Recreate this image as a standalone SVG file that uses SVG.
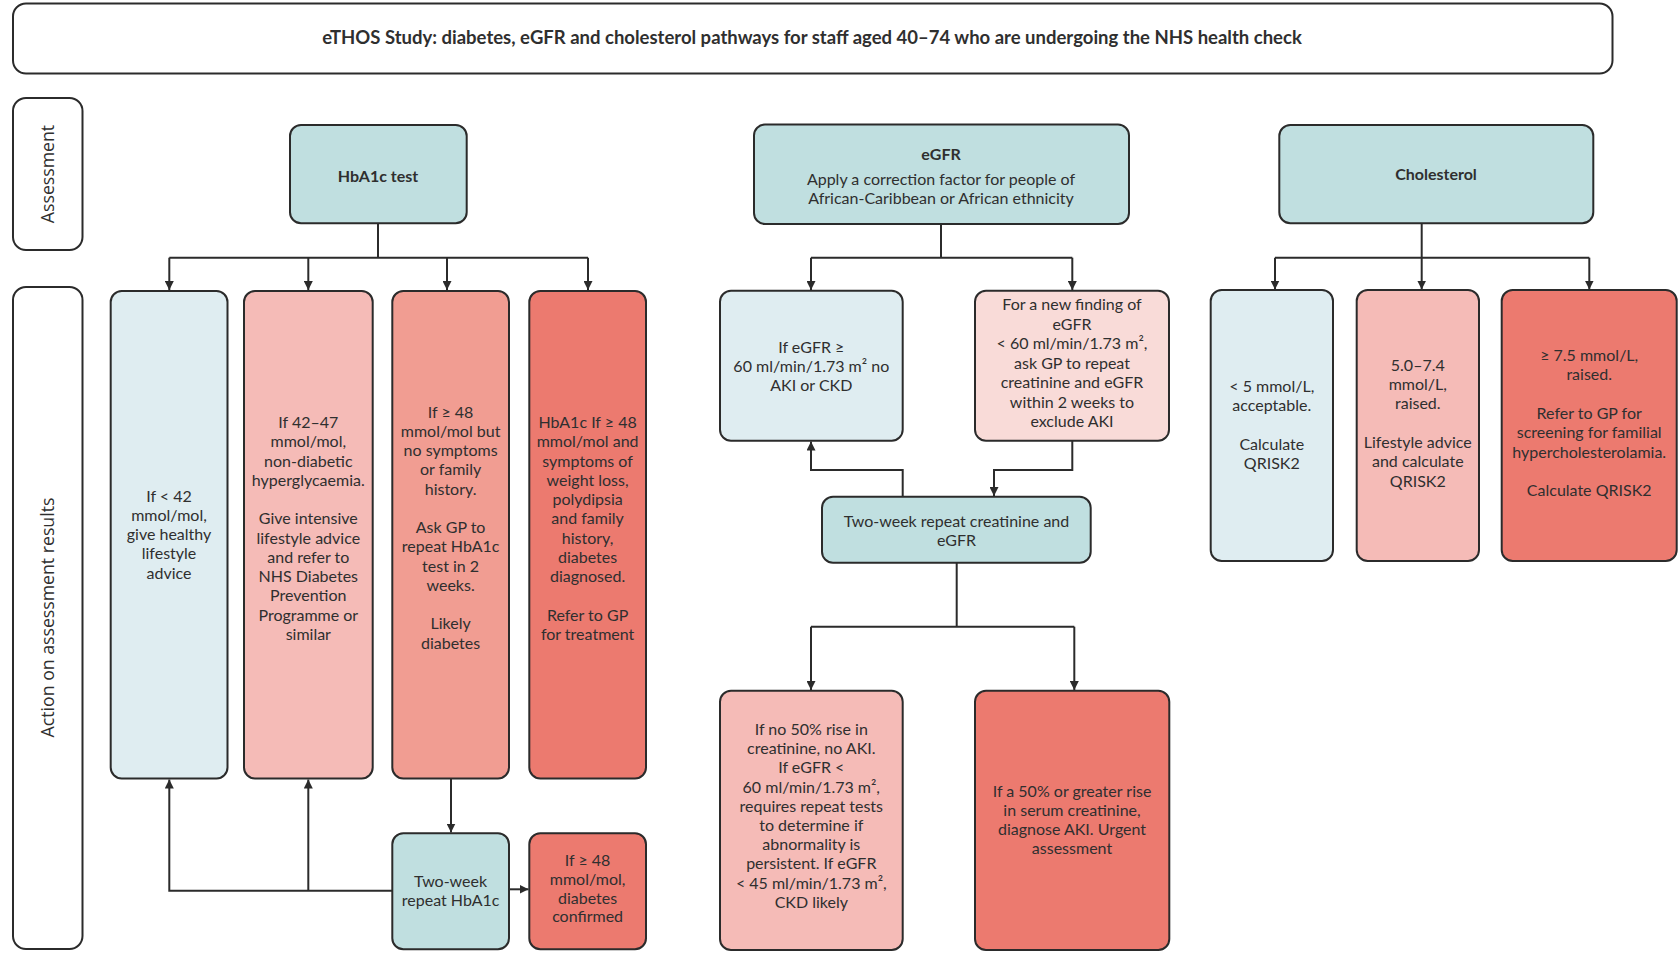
<svg xmlns="http://www.w3.org/2000/svg" width="1680" height="953" viewBox="0 0 1680 953">
<defs>
<style>
.box{stroke:#2b2b2b;stroke-width:2}
.teal{fill:#c0dfe0}
.lblue{fill:#dfedf1}
.pink{fill:#f5bbb7}
.salmon{fill:#f19d92}
.red{fill:#ec7a6f}
.ppink{fill:#f9dbd8}
.white{fill:#ffffff}
text{font-family:Lato,"Liberation Sans",sans-serif;font-size:16px;fill:#2f2f2f;text-anchor:middle}
.b{font-weight:bold}
.title{font-size:18.5px;font-weight:bold}
.side{font-family:"Open Sans","Liberation Sans",sans-serif;font-size:17.7px}
.conn{fill:none;stroke:#2b2b2b;stroke-width:2}
</style>
<marker id="arr" viewBox="0 0 10 10" refX="10" refY="5" markerWidth="9" markerHeight="9" orient="auto" markerUnits="userSpaceOnUse"><path d="M0,0 L10,5 L0,10 z" fill="#2b2b2b"/></marker>
</defs>
<rect width="1680" height="953" fill="#ffffff"/>

<g id="title">
<rect class="box white" x="13" y="3.5" width="1599.5" height="70" rx="13"/>
<text class="title" x="812" y="44">eTHOS Study: diabetes, eGFR and cholesterol pathways for staff aged 40–74 who are undergoing the NHS health check</text>
</g>

<g id="lane-assessment">
<rect class="box white" x="13" y="98" width="69.5" height="152" rx="13"/>
<text class="side" transform="translate(54,174) rotate(-90)">Assessment</text>
</g>
<g id="lane-action">
<rect class="box white" x="13" y="287" width="69.5" height="662" rx="13"/>
<text class="side" transform="translate(54,617.5) rotate(-90)">Action on assessment results</text>
</g>

<g id="connectors">
<path class="conn" d="M378,223.5 V257.7 M169.3,257.7 H588"/>
<path class="conn" d="M169.3,257.7 V290" marker-end="url(#arr)"/>
<path class="conn" d="M308.3,257.7 V290" marker-end="url(#arr)"/>
<path class="conn" d="M447,257.7 V290" marker-end="url(#arr)"/>
<path class="conn" d="M588,257.7 V290" marker-end="url(#arr)"/>
<path class="conn" d="M451,778.5 V832.5" marker-end="url(#arr)"/>
<path class="conn" d="M392.3,890.7 H169.3 V779.5" marker-end="url(#arr)"/>
<path class="conn" d="M308.3,890.7 V779.5" marker-end="url(#arr)"/>
<path class="conn" d="M509,889.3 H528.5" marker-end="url(#arr)"/>

<path class="conn" d="M941,224 V257.7 M811,257.7 H1072.3"/>
<path class="conn" d="M811,257.7 V290" marker-end="url(#arr)"/>
<path class="conn" d="M1072.3,257.7 V290" marker-end="url(#arr)"/>
<path class="conn" d="M1072.3,440.7 V470 H994 V496" marker-end="url(#arr)"/>
<path class="conn" d="M902.7,496.7 V470 H811 V441.5" marker-end="url(#arr)"/>
<path class="conn" d="M956.7,562.7 V626.7 M811,626.7 H1074.3"/>
<path class="conn" d="M811,626.7 V690" marker-end="url(#arr)"/>
<path class="conn" d="M1074.3,626.7 V690" marker-end="url(#arr)"/>

<path class="conn" d="M1421.7,223.3 V289.5" marker-end="url(#arr)"/>
<path class="conn" d="M1275,257.7 H1589.3"/>
<path class="conn" d="M1275,257.7 V289.5" marker-end="url(#arr)"/>
<path class="conn" d="M1589.3,257.7 V289.5" marker-end="url(#arr)"/>
</g>

<g id="hba1c-test">
<rect class="box teal" x="290" y="125" width="176.7" height="98.3" rx="11"/>
<text class="b" x="378" y="181.5">HbA1c test</text>
</g>

<g id="egfr">
<rect class="box teal" x="754" y="124.5" width="375" height="99.5" rx="11"/>
<text class="b" x="941" y="160">eGFR</text>
<text x="941" y="185">Apply a correction factor for people of</text>
<text x="941" y="204.3">African-Caribbean or African ethnicity</text>
</g>

<g id="cholesterol">
<rect class="box teal" x="1279.3" y="125" width="314" height="98.3" rx="11"/>
<text class="b" x="1436" y="180">Cholesterol</text>
</g>

<g id="hba1c-lt42">
<rect class="box lblue" x="110.7" y="291" width="116.8" height="487.5" rx="11"/>
<text x="169" y="501.7">If &lt; 42</text>
<text x="169" y="520.9">mmol/mol,</text>
<text x="169" y="540.2">give healthy</text>
<text x="169" y="559.4">lifestyle</text>
<text x="169" y="578.7">advice</text>
</g>

<g id="hba1c-42-47">
<rect class="box pink" x="244" y="291" width="128.7" height="487.5" rx="11"/>
<text x="308.3" y="428">If 42–47</text>
<text x="308.3" y="447.3">mmol/mol,</text>
<text x="308.3" y="466.5">non-diabetic</text>
<text x="308.3" y="485.8">hyperglycaemia.</text>
<text x="308.3" y="524.4">Give intensive</text>
<text x="308.3" y="543.6">lifestyle advice</text>
<text x="308.3" y="562.9">and refer to</text>
<text x="308.3" y="582.2">NHS Diabetes</text>
<text x="308.3" y="601.4">Prevention</text>
<text x="308.3" y="620.7">Programme or</text>
<text x="308.3" y="640">similar</text>
</g>

<g id="hba1c-ge48">
<rect class="box salmon" x="392.3" y="291" width="116.7" height="487.5" rx="11"/>
<text x="450.6" y="417.7">If ≥ 48</text>
<text x="450.6" y="436.9">mmol/mol but</text>
<text x="450.6" y="456.2">no symptoms</text>
<text x="450.6" y="475.4">or family</text>
<text x="450.6" y="494.7">history.</text>
<text x="450.6" y="533.2">Ask GP to</text>
<text x="450.6" y="552.4">repeat HbA1c</text>
<text x="450.6" y="571.7">test in 2</text>
<text x="450.6" y="590.9">weeks.</text>
<text x="450.6" y="629.4">Likely</text>
<text x="450.6" y="648.7">diabetes</text>
</g>

<g id="hba1c-diagnosed">
<rect class="box red" x="529.3" y="291" width="116.7" height="487.5" rx="11"/>
<text x="587.6" y="428">HbA1c If ≥ 48</text>
<text x="587.6" y="447.3">mmol/mol and</text>
<text x="587.6" y="466.5">symptoms of</text>
<text x="587.6" y="485.8">weight loss,</text>
<text x="587.6" y="505">polydipsia</text>
<text x="587.6" y="524.4">and family</text>
<text x="587.6" y="543.6">history,</text>
<text x="587.6" y="562.9">diabetes</text>
<text x="587.6" y="582.2">diagnosed.</text>
<text x="587.6" y="620.7">Refer to GP</text>
<text x="587.6" y="640">for treatment</text>
</g>

<g id="hba1c-repeat">
<rect class="box teal" x="392.3" y="833.3" width="116.7" height="116" rx="11"/>
<text x="450.6" y="886.7">Two-week</text>
<text x="450.6" y="905.7">repeat HbA1c</text>
</g>

<g id="hba1c-confirmed">
<rect class="box red" x="529.3" y="833.3" width="116.7" height="116" rx="11"/>
<text x="587.6" y="866">If ≥ 48</text>
<text x="587.6" y="884.8">mmol/mol,</text>
<text x="587.6" y="903.6">diabetes</text>
<text x="587.6" y="922.4">confirmed</text>
</g>

<g id="egfr-normal">
<rect class="box lblue" x="720" y="290.7" width="182.7" height="150" rx="11"/>
<text x="811.3" y="352.7">If eGFR ≥</text>
<text x="811.3" y="372">60 ml/min/1.73 m² no</text>
<text x="811.3" y="391.3">AKI or CKD</text>
</g>

<g id="egfr-low">
<rect class="box ppink" x="975" y="290.7" width="194" height="150" rx="11"/>
<text x="1072" y="310">For a new finding of</text>
<text x="1072" y="329.5">eGFR</text>
<text x="1072" y="349">&lt; 60 ml/min/1.73 m²,</text>
<text x="1072" y="368.5">ask GP to repeat</text>
<text x="1072" y="388">creatinine and eGFR</text>
<text x="1072" y="407.5">within 2 weeks to</text>
<text x="1072" y="427">exclude AKI</text>
</g>

<g id="egfr-repeat">
<rect class="box teal" x="822" y="496.7" width="268.7" height="66" rx="11"/>
<text x="956.5" y="526.7">Two-week repeat creatinine and</text>
<text x="956.5" y="546">eGFR</text>
</g>

<g id="egfr-no-aki">
<rect class="box pink" x="720" y="690.7" width="182.7" height="259.3" rx="11"/>
<text x="811.3" y="735">If no 50% rise in</text>
<text x="811.3" y="754.2">creatinine, no AKI.</text>
<text x="811.3" y="773.4">If eGFR &lt;</text>
<text x="811.3" y="792.6">60 ml/min/1.73 m²,</text>
<text x="811.3" y="811.8">requires repeat tests</text>
<text x="811.3" y="831">to determine if</text>
<text x="811.3" y="850.2">abnormality is</text>
<text x="811.3" y="869.4">persistent. If eGFR</text>
<text x="811.3" y="888.6">&lt; 45 ml/min/1.73 m²,</text>
<text x="811.3" y="907.8">CKD likely</text>
</g>

<g id="egfr-aki">
<rect class="box red" x="975" y="690.7" width="194.3" height="259.3" rx="11"/>
<text x="1072" y="796.7">If a 50% or greater rise</text>
<text x="1072" y="815.9">in serum creatinine,</text>
<text x="1072" y="835.1">diagnose AKI. Urgent</text>
<text x="1072" y="854.3">assessment</text>
</g>

<g id="chol-lt5">
<rect class="box lblue" x="1210.7" y="290" width="122.3" height="271" rx="11"/>
<text x="1271.8" y="391.7">&lt; 5 mmol/L,</text>
<text x="1271.8" y="411">acceptable.</text>
<text x="1271.8" y="449.6">Calculate</text>
<text x="1271.8" y="468.9">QRISK2</text>
</g>

<g id="chol-5-7">
<rect class="box pink" x="1356.7" y="290" width="122.3" height="271" rx="11"/>
<text x="1417.8" y="370.7">5.0–7.4</text>
<text x="1417.8" y="390">mmol/L,</text>
<text x="1417.8" y="409.3">raised.</text>
<text x="1417.8" y="447.9">Lifestyle advice</text>
<text x="1417.8" y="467.2">and calculate</text>
<text x="1417.8" y="486.5">QRISK2</text>
</g>

<g id="chol-ge75">
<rect class="box red" x="1501.7" y="290" width="175" height="271" rx="11"/>
<text x="1589.2" y="361">≥ 7.5 mmol/L,</text>
<text x="1589.2" y="380.3">raised.</text>
<text x="1589.2" y="418.9">Refer to GP for</text>
<text x="1589.2" y="438.2">screening for familial</text>
<text x="1589.2" y="457.5">hypercholesterolamia.</text>
<text x="1589.2" y="496.1">Calculate QRISK2</text>
</g>
</svg>
